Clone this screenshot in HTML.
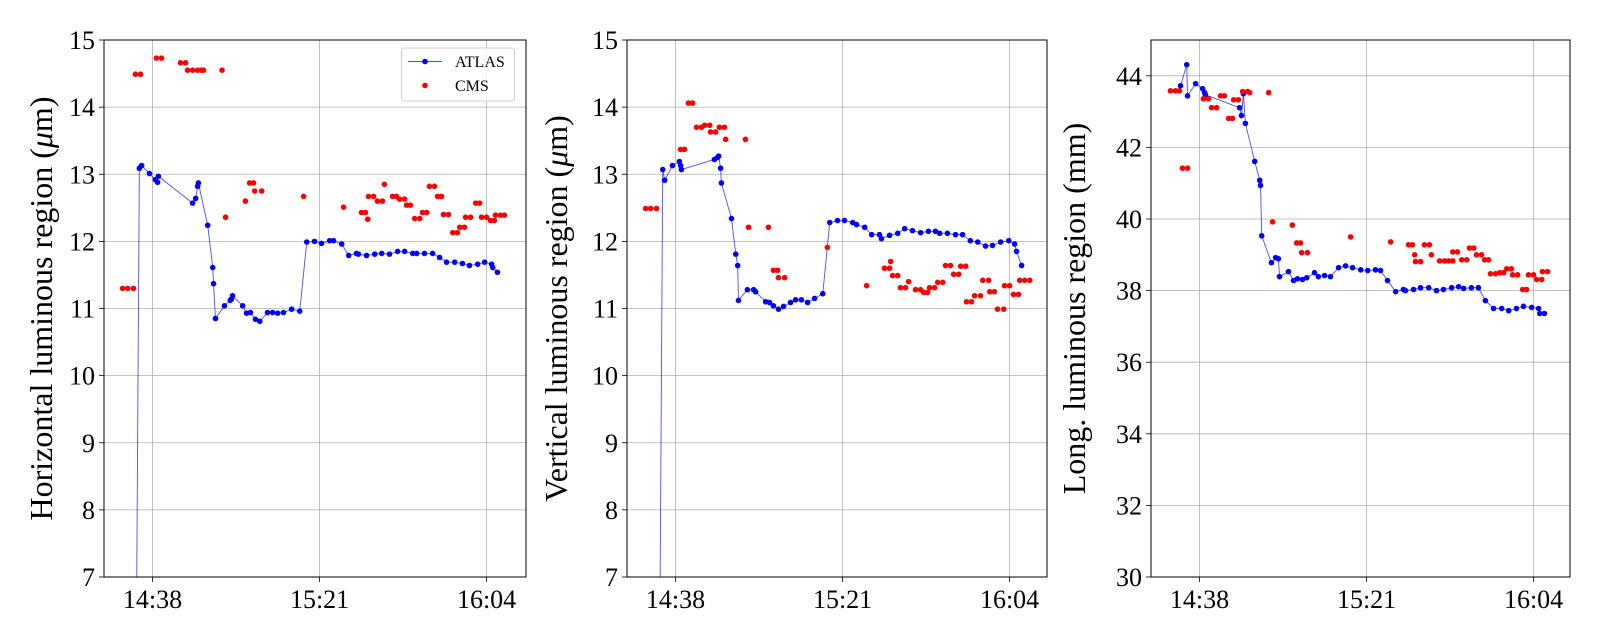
<!DOCTYPE html>
<html><head><meta charset="utf-8"><style>
html,body{margin:0;padding:0;background:#fff;overflow:hidden;width:1600px;height:640px}
svg{display:block}
svg text{font-family:"Liberation Serif",serif;fill:#000}
</style></head><body>
<svg id="fig" width="1600" height="640" viewBox="0 0 1600 640" xmlns="http://www.w3.org/2000/svg"></svg>
<script>
// times in minutes relative to 14:38
const tickMinutes=[0,43,86];
const tickLabels=["14:38","15:21","16:04"];
const p1AtlasT=[-4.5,-3.4,-2.8,-0.8,0.7,1.3,1.5,10.3,11.1,11.6,11.8,14.2,15.5,15.7,16.2,18.5,20.0,20.3,20.6,23.2,24.2,25.2,26.5,27.6,29.6,30.9,32.2,33.7,35.8,37.9,39.7,41.7,43.5,45.6,46.6,48.7,50.5,52.5,53.0,55.1,57.2,59.0,61.0,63.1,64.9,67.0,68.0,70.0,72.1,73.9,75.7,77.8,79.8,81.6,83.7,85.5,87.3,87.6,88.8];
const p1AtlasV=[3,13.09,13.13,13.01,12.92,12.88,12.97,12.57,12.64,12.82,12.87,12.24,11.61,11.37,10.85,11.04,11.12,11.14,11.19,11.04,10.93,10.94,10.84,10.81,10.94,10.94,10.93,10.94,10.99,10.96,11.99,12.00,11.97,12.01,12.01,11.96,11.79,11.82,11.81,11.79,11.81,11.82,11.81,11.85,11.85,11.82,11.82,11.82,11.82,11.76,11.69,11.69,11.67,11.64,11.66,11.69,11.66,11.61,11.54];
const p1CmsT=[-7.7,-6.4,-4.9,-4.4,-3.1,1.0,2.3,7.2,8.5,9.0,10.3,11.6,12.6,13.1,17.9,18.8,23.9,25.0,26.0,26.3,28.1,38.9,49.2,53.8,54.8,55.4,55.6,56.9,57.9,59.2,59.7,61.8,62.8,63.6,64.9,65.4,66.4,67.5,68.8,69.5,70.6,71.3,72.6,73.4,74.4,74.9,76.2,77.3,78.5,79.1,80.3,80.6,81.9,83.2,84.2,84.7,86.0,87.0,88.0,88.3,89.6,90.6];
const p1CmsV=[11.30,11.30,11.30,14.49,14.49,14.73,14.73,14.66,14.66,14.55,14.55,14.55,14.55,14.55,14.55,12.36,12.60,12.87,12.87,12.75,12.75,12.67,12.51,12.43,12.43,12.33,12.67,12.67,12.60,12.60,12.85,12.67,12.67,12.63,12.63,12.54,12.54,12.34,12.34,12.43,12.43,12.82,12.82,12.67,12.67,12.40,12.40,12.13,12.13,12.21,12.21,12.36,12.36,12.57,12.57,12.36,12.36,12.31,12.31,12.39,12.39,12.39];
const p2AtlasT=[-4.4,-3.3,-2.8,-0.8,1.0,1.3,1.5,10.0,10.8,11.1,11.6,11.8,14.4,15.5,16.0,16.2,18.5,20.1,20.6,23.2,24.2,25.2,26.5,27.8,29.6,30.9,32.4,34.0,35.8,37.9,39.7,41.7,43.5,45.6,46.6,48.7,50.5,52.5,53.0,55.1,57.2,59.0,61.0,63.1,65.1,66.9,68.0,70.0,72.1,73.9,75.9,77.8,79.8,81.6,83.7,85.8,87.3,87.8,89.1];
const p2AtlasV=[3,13.07,12.91,13.13,13.19,13.13,13.07,13.22,13.25,13.27,13.09,12.87,12.34,11.81,11.64,11.12,11.28,11.28,11.25,11.10,11.09,11.04,10.99,11.03,11.09,11.13,11.13,11.09,11.15,11.22,12.28,12.31,12.31,12.28,12.25,12.21,12.10,12.10,12.04,12.09,12.12,12.19,12.16,12.13,12.15,12.15,12.12,12.12,12.10,12.10,12.01,11.99,11.93,11.94,11.99,12.01,11.96,11.85,11.64];
const p2CmsT=[-7.7,-6.4,-4.9,1.3,2.3,3.3,4.4,5.4,6.7,7.5,8.8,9.0,10.3,11.3,12.6,12.9,18.0,18.8,23.9,25.2,26.3,26.5,28.1,39.1,49.2,53.8,55.1,55.4,55.9,57.2,57.9,59.2,60.0,61.8,63.1,63.9,64.9,65.4,66.7,67.5,68.8,69.5,70.8,71.6,72.9,73.4,74.7,74.9,76.2,77.0,78.5,79.1,80.6,80.9,82.1,82.9,84.5,84.7,86.0,87.0,88.3,88.6,89.9,91.2];
const p2CmsV=[12.49,12.49,12.49,13.37,13.37,14.06,14.06,13.70,13.70,13.73,13.73,13.63,13.63,13.70,13.70,13.52,13.52,12.21,12.21,11.57,11.57,11.46,11.46,11.91,11.34,11.60,11.60,11.70,11.49,11.49,11.31,11.31,11.40,11.28,11.28,11.24,11.24,11.31,11.31,11.39,11.39,11.64,11.64,11.51,11.51,11.63,11.63,11.10,11.10,11.19,11.19,11.42,11.42,11.25,11.25,10.99,10.99,11.34,11.34,11.21,11.21,11.42,11.42,11.42];
const p3AtlasT=[-4.9,-3.3,-3.1,-1.0,0.8,1.3,1.5,10.3,10.8,11.3,11.8,14.2,15.5,15.7,16.0,18.5,19.6,20.3,20.6,22.9,24.2,25.2,26.5,27.6,29.6,30.6,32.2,33.7,35.8,37.6,39.4,41.5,43.3,45.3,46.6,48.4,50.5,52.5,53.0,55.1,56.9,59.0,61.0,62.8,64.9,66.7,68.0,70.0,71.8,73.6,75.7,77.8,79.6,81.6,83.4,85.5,87.3,87.6,88.8];
const p3AtlasV=[43.72,44.31,43.44,43.78,43.64,43.53,43.47,43.11,42.89,43.50,42.67,41.61,41.08,40.94,39.53,38.78,38.92,38.89,38.39,38.53,38.28,38.33,38.31,38.36,38.50,38.39,38.42,38.39,38.64,38.69,38.64,38.58,38.56,38.58,38.56,38.28,37.97,38.03,38.00,38.03,38.08,38.08,38.00,38.03,38.08,38.11,38.06,38.08,38.08,37.72,37.50,37.50,37.44,37.50,37.56,37.53,37.50,37.36,37.36];
const p3CmsT=[-7.5,-6.2,-5.2,-4.4,-3.1,1.0,2.3,3.1,4.4,5.4,6.4,7.5,8.5,8.8,10.0,11.1,12.4,12.9,17.8,18.8,23.9,25.0,26.0,26.3,27.8,38.9,49.2,53.8,54.8,55.4,55.6,56.9,57.9,59.2,59.7,61.8,63.1,64.1,65.2,65.2,66.4,67.5,68.8,69.5,70.6,71.3,72.6,73.4,74.4,74.9,76.2,77.3,78.3,79.1,80.3,80.6,81.9,83.2,84.2,84.7,86.0,86.8,88.1,88.3,89.6];
const p3CmsV=[43.58,43.58,43.58,41.42,41.42,43.36,43.36,43.11,43.11,43.44,43.44,42.81,42.81,43.33,43.33,43.56,43.56,43.53,43.53,39.92,39.83,39.33,39.33,39.06,39.06,39.50,39.36,39.28,39.28,39.00,38.81,38.81,39.28,39.28,39.00,38.83,38.83,38.83,38.83,39.08,39.08,38.86,38.86,39.19,39.19,39.00,39.00,38.86,38.86,38.47,38.47,38.50,38.50,38.61,38.61,38.44,38.44,38.03,38.03,38.44,38.44,38.31,38.31,38.53,38.53];
const p1YTicks=[7,8,9,10,11,12,13,14,15];
const p3YTicks=[30,32,34,36,38,40,42,44];

const NS="http://www.w3.org/2000/svg";
const svg=document.getElementById('fig');
function mk(tag,attrs,parent){const e=document.createElementNS(NS,tag);for(const k in attrs)e.setAttribute(k,attrs[k]);(parent||svg).appendChild(e);return e;}
const PXMIN=3.884, T0=-12.5;
function panel(id,L,W,yMin,yMax,yTicks,ylabel,ylabelX,aT,aV,cT,cV,legend){
  const T=40,B=577,H=B-T;
  const g=mk('g',{});
  
  
  const sx=t=>L+(t-T0)*PXMIN;
  const sy=v=>B-(v-yMin)/(yMax-yMin)*H;
  const clip=mk('clipPath',{id:id+'-clip'},g);
  mk('rect',{x:L,y:T,width:W,height:H},clip);
  tickMinutes.forEach((m,i)=>{const x=sx(m);
    const gl=mk('line',{x1:x,x2:x,y1:T,y2:B,stroke:'#b0b0b0','stroke-width':0.8},g);
    
    
    mk('line',{x1:x,x2:x,y1:B,y2:B+5,stroke:'#000','stroke-width':0.8},g);
    const tx=mk('text',{x:x,y:B+31,'text-anchor':'middle','font-size':26},g);tx.textContent=tickLabels[i];
    
    
  });
  yTicks.forEach(v=>{const y=sy(v);
    if(v>yMin&&v<yMax){const gl=mk('line',{x1:L,x2:L+W,y1:y,y2:y,stroke:'#b0b0b0','stroke-width':0.8},g);
      
      }
    mk('line',{x1:L-5,x2:L,y1:y,y2:y,stroke:'#000','stroke-width':0.8},g);
    const tx=mk('text',{x:L-9,y:y+9,'text-anchor':'end','font-size':26},g);tx.textContent=v;
    
    
  });
  const cg=mk('g',{'clip-path':'url(#'+id+'-clip)'},g);
  const pts=aT.map((t,i)=>sx(t)+','+sy(aV[i])).join(' ');
  const pl=mk('polyline',{points:pts,fill:'none',stroke:'#0000ff','stroke-opacity':0.7,'stroke-width':0.9},cg);
  
  
  aT.forEach((t,i)=>{const c=mk('circle',{cx:sx(t),cy:sy(aV[i]),r:2.8,fill:'#0000ff'},cg);
    
    });
  cT.forEach((t,i)=>{const c=mk('circle',{cx:sx(t),cy:sy(cV[i]),r:2.8,fill:'#ff0000'},cg);
    
    });
  const fr=mk('rect',{x:L,y:T,width:W,height:H,fill:'none',stroke:'#000','stroke-width':1},g);
  
  
  const yl=mk('text',{x:0,y:0,'text-anchor':'middle','font-size':32,transform:`translate(${ylabelX},${(T+B)/2}) rotate(-90)`},g);
  yl.innerHTML=ylabel;
  
  
  if(legend){
    const lg=mk('g',{},g);
    
    
    mk('rect',{x:401.5,y:48,width:113,height:53,rx:3,fill:'#fff','fill-opacity':0.8,stroke:'#d0d0d0'},lg);
    mk('line',{x1:408,x2:442,y1:61.5,y2:61.5,stroke:'#0000ff','stroke-opacity':0.7,'stroke-width':0.9},lg);
    mk('circle',{cx:425,cy:61.5,r:2.8,fill:'#0000ff'},lg);
    mk('circle',{cx:425,cy:85.5,r:2.8,fill:'#ff0000'},lg);
    const a=mk('text',{x:455,y:67,'font-size':16},lg);a.textContent='ATLAS';
    
    
    const b=mk('text',{x:455,y:91,'font-size':16},lg);b.textContent='CMS';
    
    
  }
}
panel('panel-horizontal',104,422,7,15,p1YTicks,'Horizontal luminous region (<tspan font-style="italic">μ</tspan>m)',52,p1AtlasT,p1AtlasV,p1CmsT,p1CmsV,true);
panel('panel-vertical',627,420,7,15,p1YTicks,'Vertical luminous region (<tspan font-style="italic">μ</tspan>m)',567,p2AtlasT,p2AtlasV,p2CmsT,p2CmsV,false);
panel('panel-longitudinal',1151,419,30,45,p3YTicks,'Long. luminous region (mm)',1085,p3AtlasT,p3AtlasV,p3CmsT,p3CmsV,false);
</script>
</body></html>
